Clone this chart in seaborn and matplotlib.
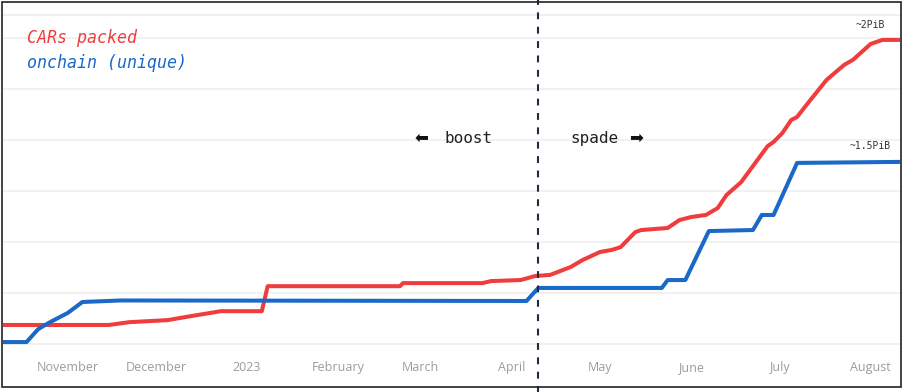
import matplotlib
matplotlib.use("Agg")
import matplotlib.pyplot as plt
import matplotlib.dates as mdates
from matplotlib.ticker import FuncFormatter
from matplotlib.patches import Rectangle
import seaborn as sns
import pandas as pd

# ---- data (PiB) ----
red_dates = ['2022-10-10', '2022-11-15', '2022-11-22', '2022-12-05', '2022-12-11', '2022-12-21',
             '2022-12-23', '2023-01-06', '2023-01-08', '2023-02-22', '2023-02-23', '2023-03-22',
             '2023-03-25', '2023-04-04', '2023-04-09', '2023-04-14', '2023-04-21', '2023-04-25',
             '2023-05-01', '2023-05-05', '2023-05-08', '2023-05-13', '2023-05-15', '2023-05-24',
             '2023-05-28', '2023-06-01', '2023-06-06', '2023-06-10', '2023-06-13', '2023-06-18',
             '2023-06-21', '2023-06-27', '2023-06-29', '2023-07-02', '2023-07-05', '2023-07-07',
             '2023-07-11', '2023-07-17', '2023-07-23', '2023-07-26', '2023-08-01', '2023-08-05',
             '2023-08-11']
red_vals = [0.875, 0.875, 0.886, 0.894, 0.906, 0.925,
            0.929, 0.929, 1.027, 1.027, 1.039, 1.039,
            1.047, 1.051, 1.067, 1.071, 1.102, 1.129,
            1.161, 1.169, 1.180, 1.239, 1.247, 1.255,
            1.286, 1.298, 1.306, 1.333, 1.384, 1.435,
            1.482, 1.576, 1.592, 1.627, 1.678, 1.690,
            1.749, 1.835, 1.894, 1.914, 1.976, 1.992,
            1.992]

blue_dates = ['2022-10-10', '2022-10-18', '2022-10-22', '2022-10-26', '2022-11-01', '2022-11-06',
              '2022-11-19', '2023-04-06', '2023-04-10', '2023-05-22', '2023-05-24', '2023-05-30',
              '2023-06-07', '2023-06-22', '2023-06-25', '2023-06-29', '2023-07-07', '2023-08-11']
blue_vals = [0.808, 0.808, 0.859, 0.886, 0.922, 0.965,
             0.971, 0.969, 1.020, 1.020, 1.051, 1.051,
             1.243, 1.247, 1.306, 1.306, 1.510, 1.514]

series_labels = ['CARs packed', 'onchain (unique)']
split_date = '2023-04-10'
grid_vals = [0.8, 1.0, 1.2, 1.4, 1.6, 1.8, 2.0]

RED = '#f03c3c'
BLUE = '#1a68c8'

sns.set_theme(style='white')
plt.rcParams['font.family'] = ['DejaVu Sans Mono', 'DejaVu Sans']

red_df = pd.DataFrame({'date': pd.to_datetime(red_dates), 'value': red_vals})
blue_df = pd.DataFrame({'date': pd.to_datetime(blue_dates), 'value': blue_vals})

fig = plt.figure(figsize=(9.04, 3.92), dpi=100)
ax = fig.add_axes([0.0033, 0.102, 0.9923, 0.860])

sns.lineplot(data=red_df, x='date', y='value', ax=ax, color=RED, linewidth=2.9,
             estimator=None, solid_capstyle='round', solid_joinstyle='round', zorder=3)
sns.lineplot(data=blue_df, x='date', y='value', ax=ax, color=BLUE, linewidth=2.9,
             estimator=None, solid_capstyle='round', solid_joinstyle='round', zorder=3)

ax.set_xlim(pd.Timestamp('2022-10-10'), pd.Timestamp('2023-08-11'))
ax.set_ylim(0.769, 2.090)

ax.set_yticks(grid_vals)
ax.set_yticklabels([])
ax.yaxis.grid(True, color='#efefef', linewidth=1.2)
ax.xaxis.grid(False)
ax.tick_params(axis='y', length=0)
ax.set_ylabel('')
ax.set_xlabel('')

ax.xaxis.set_major_locator(mdates.MonthLocator())
def fmt(x, pos):
    d = mdates.num2date(x)
    return str(d.year) if d.month == 1 else d.strftime('%B')
ax.xaxis.set_major_formatter(FuncFormatter(fmt))
ax.tick_params(axis='x', length=0, pad=13.5, labelsize=9, labelcolor='#9c9c9c')
for lab in ax.get_xticklabels():
    lab.set_family(['Open Sans', 'DejaVu Sans'])
    lab.set_verticalalignment('baseline')

for s in ['left', 'right', 'bottom']:
    ax.spines[s].set_visible(False)
ax.spines['top'].set_color('#ececec')
ax.spines['top'].set_linewidth(1.2)

# split line
split = pd.Timestamp(split_date)
ax.axvline(split, ymin=-0.13, ymax=1.06, clip_on=False,
           color='#1f2b45', linewidth=1.5, dashes=(3.3, 3.6), zorder=4)

ax.annotate('boost', xy=(split, 1.604), xytext=(-33, 0),
            textcoords='offset points', ha='right', va='center', fontsize=11.5,
            color='#222222')
ax.annotate('\u2b05', xy=(split, 1.610), xytext=(-84, 0),
            textcoords='offset points', ha='center', va='center', fontsize=12,
            color='#111111', family=['DejaVu Sans'])
ax.annotate('spade', xy=(split, 1.604), xytext=(23, 0),
            textcoords='offset points', ha='left', va='center', fontsize=11.5,
            color='#222222')
ax.annotate('\u27a1', xy=(split, 1.610), xytext=(70, 0),
            textcoords='offset points', ha='center', va='center', fontsize=12,
            color='#111111', family=['DejaVu Sans'])

ax.text(pd.Timestamp('2023-08-01'), 2.05, '~2PiB', ha='center', va='center',
        fontsize=7, color='#333333')
ax.text(pd.Timestamp('2023-08-01'), 1.576, '~1.5PiB', ha='center', va='center',
        fontsize=7, color='#333333')

ax.text(0.027, 0.932, series_labels[0], transform=ax.transAxes, ha='left', va='center',
        fontsize=12, style='italic', color=RED)
ax.text(0.027, 0.858, series_labels[1], transform=ax.transAxes, ha='left', va='center',
        fontsize=12, style='italic', color=BLUE)

fig.patches.append(Rectangle((0.0022, 0.0128), 0.9945, 0.9821, transform=fig.transFigure,
                             fill=False, edgecolor='#222222', linewidth=1.2, zorder=10))

fig.savefig('out.png', dpi=100)
